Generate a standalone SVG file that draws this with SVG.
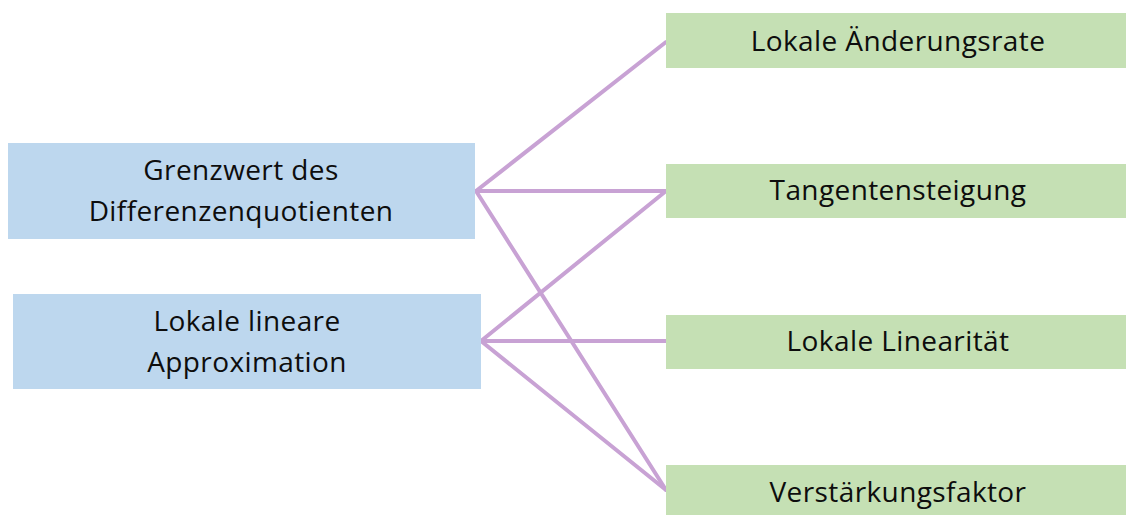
<svg xmlns="http://www.w3.org/2000/svg" width="1126" height="515" viewBox="0 0 1126 515">
<style>
.blue{fill:#BDD7EE}
.green{fill:#C5E0B4}
.t{font-family:"Open Sans","Liberation Sans",Arial,sans-serif;font-size:28px;letter-spacing:0.4px;fill:#0d0d0d;text-anchor:middle}
.c{stroke:#C8A2D4;stroke-width:4;fill:none;stroke-linecap:round}
</style>
<rect width="1126" height="515" fill="#fff"/>
<g id="connectors">
<line class="c" x1="476" y1="191" x2="666" y2="42"/>
<line class="c" x1="476" y1="191" x2="666" y2="191"/>
<line class="c" x1="476" y1="191" x2="666" y2="490"/>
<line class="c" x1="481" y1="341" x2="666" y2="191"/>
<line class="c" x1="481" y1="341" x2="666" y2="341"/>
<line class="c" x1="481" y1="341" x2="666" y2="490"/>
</g>
<g id="n1"><rect class="blue" x="8" y="143" width="467" height="96"/><text class="t" x="241" y="180">Grenzwert des</text><text class="t" x="241" y="221">Differenzenquotienten</text></g>
<g id="n2"><rect class="blue" x="13" y="294" width="468" height="95"/><text class="t" x="247" y="331">Lokale lineare</text><text class="t" x="247" y="372">Approximation</text></g>
<g id="r1"><rect class="green" x="666" y="13" width="460" height="55"/><text class="t" x="898" y="51">Lokale Änderungsrate</text></g>
<g id="r2"><rect class="green" x="666" y="164" width="460" height="54"/><text class="t" x="898" y="200">Tangentensteigung</text></g>
<g id="r3"><rect class="green" x="666" y="315" width="460" height="54"/><text class="t" x="898" y="351">Lokale Linearität</text></g>
<g id="r4"><rect class="green" x="666" y="465" width="460" height="50"/><text class="t" x="898" y="502">Verstärkungsfaktor</text></g>
</svg>
